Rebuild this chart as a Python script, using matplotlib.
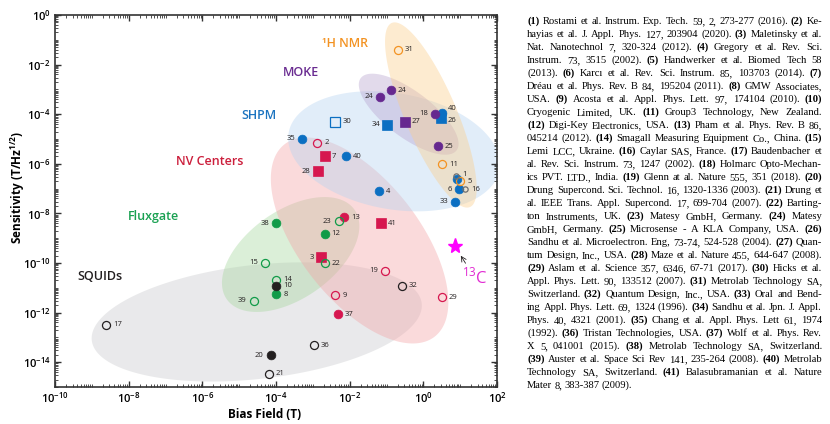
import re
import numpy as np
import matplotlib
matplotlib.use('Agg')
import matplotlib.pyplot as plt
from matplotlib.ticker import LogLocator, NullFormatter
from matplotlib.transforms import IdentityTransform

plt.rcParams['font.family'] = ['Open Sans', 'DejaVu Sans']

# ---------------- data (bias field in T, sensitivity in T/Hz^1/2) ----------------
# SHPM, filled blue circles
shpm_ids = ['35', '40', '4', '40', '1', '6', '33']
shpm_x = [5.1e-4, 8.1e-3, 6.2e-2, 3.2, 8.1, 9.3, 7.2]
shpm_y = [1.0e-5, 2.0e-6, 7.9e-8, 1.12e-4, 2.5e-7, 9.5e-8, 2.95e-8]
# SHPM, filled blue squares / open square
shpm_sq_ids = ['34', '26']
shpm_sq_x = [0.105, 3.0]
shpm_sq_y = [3.7e-5, 7.1e-5]
shpm_open_ids = ['30']
shpm_open_x = [4.1e-3]
shpm_open_y = [4.9e-5]
# MOKE, purple
moke_ids = ['24', '24', '18', '25']
moke_x = [0.068, 0.13, 2.1, 2.5]
moke_y = [5.1e-4, 9.3e-4, 1.02e-4, 5.1e-6]
moke_sq_ids = ['27']
moke_sq_x = [0.32]
moke_sq_y = [4.9e-5]
# NV centers, red
nv_sq_ids = ['7', '28', '3', '41']
nv_sq_x = [2.1e-3, 1.35e-3, 1.66e-3, 7.2e-2]
nv_sq_y = [2.0e-6, 5.0e-7, 1.7e-10, 4.1e-9]
nv_ids = ['13', '37']
nv_x = [7.2e-3, 4.7e-3]
nv_y = [6.9e-9, 8.5e-13]
nv_open_ids = ['2', '19', '9', '29']
nv_open_x = [1.32e-3, 9.1e-2, 4.1e-3, 3.2]
nv_open_y = [6.9e-6, 4.8e-11, 5.0e-12, 4.1e-12]
# Fluxgate, green
fg_ids = ['38', '12', '8']
fg_x = [1.02e-4, 2.1e-3, 1.02e-4]
fg_y = [4.1e-9, 1.5e-9, 5.6e-12]
fg_open_ids = ['23', '22', '15', '14', '39']
fg_open_x = [5.0e-3, 2.1e-3, 5.0e-5, 1.02e-4, 2.5e-5]
fg_open_y = [4.9e-9, 9.8e-11, 1.0e-10, 2.1e-11, 2.95e-12]
# 1H NMR, orange open
nmr_ids = ['31', '11', '5']
nmr_x = [0.20, 3.2, 10.2]
nmr_y = [3.9e-2, 9.8e-7, 2.0e-7]
# SQUIDs, black
sq_ids = ['10', '20']
sq_x = [1.02e-4, 7.1e-5]
sq_y = [1.23e-11, 1.95e-14]
sq_open_ids = ['32', '36', '21', '17']
sq_open_x = [0.26, 1.05e-3, 6.3e-5, 2.4e-9]
sq_open_y = [1.23e-11, 4.9e-14, 3.5e-15, 3.2e-13]
# small gray open circles
gray_ids = ['16', '']
gray_x = [13.2, 7.6]
gray_y = [9.5e-8, 3.2e-7]
# 13C star
c13_x = [7.2]
c13_y = [4.7e-10]

regions = ['SQUIDs', 'Fluxgate', 'NV Centers', 'SHPM', 'MOKE', '¹H NMR']
region_label_x = [1.66e-9, 4.8e-8, 1.6e-6, 3.4e-5, 4.7e-4, 7.4e-3]
region_label_y = [2.95e-11, 7.6e-9, 1.26e-6, 9.1e-5, 4.8e-3, 7.2e-2]
region_cx = [3.0e-5, 2.5e-4, 1.86e-2, 0.16, 0.40, 1.6]
region_cy = [4.2e-13, 2.2e-10, 8.1e-10, 3.2e-6, 1.0e-4, 9.3e-5]

xticks = [1e-10, 1e-8, 1e-6, 1e-4, 1e-2, 1e0, 1e2]
xtick_labels = [r'$\mathregular{10^{-10}}$', r'$\mathregular{10^{-8}}$', r'$\mathregular{10^{-6}}$',
                r'$\mathregular{10^{-4}}$', r'$\mathregular{10^{-2}}$', r'$\mathregular{10^{0}}$',
                r'$\mathregular{10^{2}}$']
yticks = [1e0, 1e-2, 1e-4, 1e-6, 1e-8, 1e-10, 1e-12, 1e-14]
ytick_labels = [r'$\mathregular{10^{0}}$', r'$\mathregular{10^{-2}}$', r'$\mathregular{10^{-4}}$',
                r'$\mathregular{10^{-6}}$', r'$\mathregular{10^{-8}}$', r'$\mathregular{10^{-10}}$',
                r'$\mathregular{10^{-12}}$', r'$\mathregular{10^{-14}}$']

ref_lines = [
    "(1) Rostami et al. Instrum. Exp. Tech. 59, 2, 273-277 (2016). (2) Ke-",
    "hayias et al. J. Appl. Phys. 127, 203904 (2020). (3) Maletinsky et al.",
    "Nat. Nanotechnol 7, 320-324 (2012). (4) Gregory et al. Rev. Sci.",
    "Instrum. 73, 3515 (2002). (5) Handwerker et al. Biomed Tech 58",
    "(2013). (6) Karcı et al. Rev. Sci. Instrum. 85, 103703 (2014). (7)",
    "Dréau et al. Phys. Rev. B 84, 195204 (2011). (8) GMW Associates,",
    "USA. (9) Acosta et al. Appl. Phys. Lett. 97, 174104 (2010). (10)",
    "Cryogenic Limited, UK. (11) Group3 Technology, New Zealand.",
    "(12) Digi-Key Electronics, USA. (13) Pham et al. Phys. Rev. B 86,",
    "045214 (2012). (14) Smagall Measuring Equipment Co., China. (15)",
    "Lemi LCC, Ukraine. (16) Caylar SAS, France. (17) Baudenbacher et",
    "al. Rev. Sci. Instrum. 73, 1247 (2002). (18) Holmarc Opto-Mechan-",
    "ics PVT. LTD., India. (19) Glenn at al. Nature 555, 351 (2018). (20)",
    "Drung Supercond. Sci. Technol. 16, 1320-1336 (2003). (21) Drung et",
    "al. IEEE Trans. Appl. Supercond. 17, 699-704 (2007). (22) Barting-",
    "ton Instruments, UK. (23) Matesy GmbH, Germany. (24) Matesy",
    "GmbH, Germany. (25) Microsense - A KLA Company, USA. (26)",
    "Sandhu et al. Microelectron. Eng, 73-74, 524-528 (2004). (27) Quan-",
    "tum Design, Inc., USA. (28) Maze et al. Nature 455, 644-647 (2008).",
    "(29) Aslam et al. Science 357, 6346, 67-71 (2017). (30) Hicks et al.",
    "Appl. Phys. Lett. 90, 133512 (2007). (31) Metrolab Technology SA,",
    "Switzerland. (32) Quantum Design, Inc., USA. (33) Oral and Bend-",
    "ing Appl. Phys. Lett. 69, 1324 (1996). (34) Sandhu et al. Jpn. J. Appl.",
    "Phys. 40, 4321 (2001). (35) Chang et al. Appl. Phys. Lett 61, 1974",
    "(1992). (36) Tristan Technologies, USA. (37) Wolf et al. Phys. Rev.",
    "X 5, 041001 (2015). (38) Metrolab Technology SA, Switzerland.",
    "(39) Auster et al. Space Sci Rev 141, 235-264 (2008). (40) Metrolab",
    "Technology SA, Switzerland. (41) Balasubramanian et al. Nature",
    "Mater 8, 383-387 (2009).",
]

# ---------------- styles ----------------
BLUE, PURPLE, RED, GREEN = '#0b6fc2', '#66288f', '#d6174f', '#109b48'
ORANGE, BLACK, GRAY = '#f39323', '#231f20', '#6d6e70'
# region: fill colour, text colour, semi axes (px), angle
region_style = {
    'SQUIDs': ('#c9cacd', BLACK, 166, 57, 6.4),
    'Fluxgate': ('#a6d79e', '#1aa152', 78, 44, 35),
    'NV Centers': ('#f3a3a6', '#cc1f3c', 122, 60, -52),
    'SHPM': ('#b5d3f1', '#1c74c0', 107, 58, -10),
    'MOKE': ('#b7a3cf', '#6a2c91', 60, 23, -37),
    '¹H NMR': ('#fbcd8a', '#f39323', 100, 26, -67),
}

fig = plt.figure(figsize=(8.3, 4.24), dpi=100)
ax = fig.add_axes([55 / 830, 1 - 387 / 424, 442 / 830, 372 / 424])
ax.set_xscale('log')
ax.set_yscale('log')
ax.set_xlim(1e-10, 1e2)
ax.set_ylim(1e-15, 1e0)


def region(name, cx, cy):
    fc, _, a, b, ang = region_style[name]
    t = np.linspace(0, 2 * np.pi, 300)
    c = ax.transData.transform((cx, cy))
    th = np.radians(ang)
    px = c[0] + a * np.cos(t) * np.cos(th) - b * np.sin(t) * np.sin(th)
    py = c[1] + a * np.cos(t) * np.sin(th) + b * np.sin(t) * np.cos(th)
    pts = ax.transData.inverted().transform(np.column_stack([px, py]))
    ax.fill(pts[:, 0], pts[:, 1], color=fc, alpha=0.4, lw=0, zorder=1)


for name, cx, cy, lx, ly in zip(regions, region_cx, region_cy, region_label_x, region_label_y):
    region(name, cx, cy)
    ax.text(lx, ly, name, color=region_style[name][1], fontsize=9, fontweight='semibold',
            ha='center', va='center', zorder=5)

OFF = {'r': (5, 0, 'left'), 'l': (-5, 0, 'right'), 'ur': (4, 3, 'left'), 'dr': (5, -2, 'left')}


def points(ids, xs, ys, sides, color, marker='o', filled=True, ms=6.3):
    ax.plot(xs, ys, ls='none', marker=marker, ms=ms, mec=color,
            mfc=color if filled else 'none', mew=0.9 if not filled else 0.5, zorder=4)
    for t, x, y, s in zip(ids, xs, ys, sides):
        dx, dy, ha = OFF[s]
        ax.annotate(t, (x, y), xytext=(dx, dy), textcoords='offset points', ha=ha,
                    va='center', fontsize=5.5, color=BLACK, zorder=6)


points(shpm_ids, shpm_x, shpm_y, ['l', 'r', 'r', 'ur', 'ur', 'l', 'l'], BLUE)
points(shpm_sq_ids, shpm_sq_x, shpm_sq_y, ['l', 'dr'], BLUE, marker='s', ms=6.5)
points(shpm_open_ids, shpm_open_x, shpm_open_y, ['r'], BLUE, marker='s', filled=False, ms=6.5)
points(moke_ids, moke_x, moke_y, ['l', 'r', 'l', 'r'], PURPLE)
points(moke_sq_ids, moke_sq_x, moke_sq_y, ['r'], PURPLE, marker='s', ms=6.5)
points(nv_sq_ids, nv_sq_x, nv_sq_y, ['r', 'l', 'l', 'r'], RED, marker='s', ms=6.5)
points(nv_ids, nv_x, nv_y, ['r', 'r'], RED)
points(nv_open_ids, nv_open_x, nv_open_y, ['r', 'l', 'r', 'r'], RED, filled=False, ms=5.8)
points(fg_ids, fg_x, fg_y, ['l', 'r', 'r'], GREEN)
points(fg_open_ids, fg_open_x, fg_open_y, ['l', 'r', 'l', 'r', 'l'], GREEN, filled=False, ms=5.8)
points(nmr_ids, nmr_x, nmr_y, ['r', 'r', 'r'], ORANGE, filled=False, ms=5.8)
points(sq_ids, sq_x, sq_y, ['r', 'l'], BLACK)
points(sq_open_ids, sq_open_x, sq_open_y, ['r', 'r', 'r', 'r'], BLACK, filled=False, ms=5.8)
points(gray_ids, gray_x, gray_y, ['r', 'r'], GRAY, filled=False, ms=3.8)

ax.plot(c13_x, c13_y, ls='none', marker='*', ms=11, color='#ff00ff', zorder=4)
ax.annotate(r'$^{\mathregular{13}}$C', (c13_x[0], c13_y[0]), xytext=(24.5, 2.6e-11),
            color='#e12bd2', fontsize=12, ha='center', va='center',
            arrowprops=dict(arrowstyle='->,head_length=0.3,head_width=0.15', lw=0.6,
                            color=BLACK, shrinkA=1, shrinkB=8))

# axes styling
ax.set_xticks(xticks)
ax.set_xticklabels(xtick_labels)
ax.set_yticks(yticks)
ax.set_yticklabels(ytick_labels)
for axis in (ax.xaxis, ax.yaxis):
    axis.set_minor_locator(LogLocator(base=10, subs=np.arange(1, 10) * 1.0, numticks=200))
    axis.set_minor_formatter(NullFormatter())
ax.tick_params(which='both', direction='in', top=True, right=True, color='#333333')
ax.tick_params(which='major', length=4, width=1, labelsize=8, pad=3)
ax.tick_params(which='minor', length=2, width=0.6)
for lab in ax.get_xticklabels() + ax.get_yticklabels():
    lab.set_fontweight('semibold')
for sp in ax.spines.values():
    sp.set_linewidth(1.2)
    sp.set_color('#333333')

fig.text(265 / 830, 1 - 414 / 424, 'Bias Field (T)', ha='center', va='center',
         fontsize=8.5, fontweight='bold')
fig.text(18 / 830, 1 - 187 / 424, r'Sensitivity (T/Hz$^{\mathregular{1/2}}$)', ha='center',
         va='center', rotation=90, fontsize=8.5, fontweight='bold')

# justified reference list on the right
renderer = fig.canvas.get_renderer()
x0, x1 = 527, 822
for i, line in enumerate(ref_lines):
    words = line.split(' ')
    texts = []
    for w in words:
        bold = re.fullmatch(r'\(\d{1,2}\)', w) is not None
        texts.append(fig.text(0, 0, w, transform=IdentityTransform(), fontsize=7.6,
                              family='Liberation Serif', fontweight='bold' if bold else 'normal',
                              va='baseline', ha='left'))
    widths = [t.get_window_extent(renderer).width for t in texts]
    if i == len(ref_lines) - 1:
        gap = 2.3
    else:
        gap = (x1 - x0 - sum(widths)) / (len(words) - 1)
    xp = x0
    yp = 424 - (24 + 13 * i)
    for t, w in zip(texts, widths):
        t.set_position((xp, yp))
        xp += w + gap

fig.savefig('out.png', dpi=100)
